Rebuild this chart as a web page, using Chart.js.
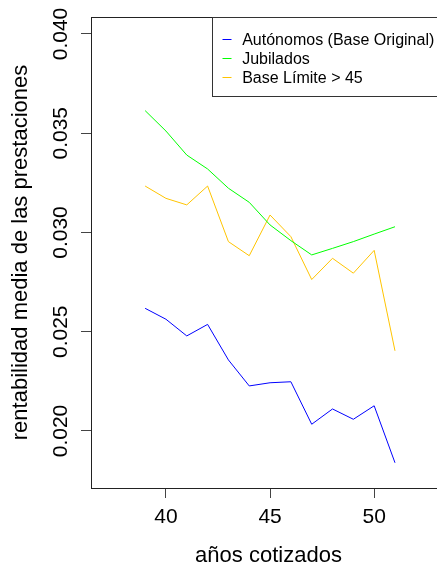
<!DOCTYPE html>
<html>
<head>
<meta charset="utf-8">
<script src="https://cdn.jsdelivr.net/npm/chart.js@4.4.1/dist/chart.umd.min.js"></script>
<style>
  html, body { margin: 0; padding: 0; background: #fff; overflow: hidden; width: 437px; height: 566px; }
  canvas { display: block; }
</style>
</head>
<body>
<canvas id="c" width="446" height="566"></canvas>
<script>
// ---- data ----
const years = [39, 40, 41, 42, 43, 44, 45, 46, 47, 48, 49, 50, 51];
const autonomos = [0.02618, 0.02563, 0.02479, 0.02537, 0.02358, 0.02227, 0.02243, 0.02248, 0.02034, 0.02111, 0.02059, 0.02127, 0.01840];
const jubilados = [0.03614, 0.03511, 0.03390, 0.03320, 0.03223, 0.03152, 0.03038, 0.02959, 0.02887, 0.02920, 0.02954, 0.02992, 0.03029];
const baseLimite = [0.03234, 0.03172, 0.03139, 0.03234, 0.02954, 0.02883, 0.03088, 0.02979, 0.02763, 0.02870, 0.02795, 0.02910, 0.02404];
const seriesLabels = ["Autónomos (Base Original)", "Jubilados", "Base Límite > 45"];
const xTickValues = [40, 45, 50];
const xTickLabels = ["40", "45", "50"];
const yTickValues = [0.020, 0.025, 0.030, 0.035, 0.040];
const yTickLabels = ["0.020", "0.025", "0.030", "0.035", "0.040"];
const xTitle = "años cotizados";
const yTitle = "rentabilidad media de las prestaciones";

const FONT = "'Liberation Sans', Arial, sans-serif";
const toPts = (arr) => years.map((x, i) => ({ x: x, y: arr[i] }));

const boxPlugin = {
  id: 'rbox',
  afterDraw(chart) {
    const { ctx, chartArea: a } = chart;
    ctx.save();
    // top border of the plot box
    ctx.strokeStyle = '#222';
    ctx.lineWidth = 1;
    ctx.beginPath();
    ctx.moveTo(a.left, Math.round(a.top) + 0.5);
    ctx.lineTo(a.right, Math.round(a.top) + 0.5);
    ctx.stroke();
    // legend (top right)
    const left = Math.round(a.right - 234.3) + 0.5;
    const top = Math.round(a.top) + 0.5;
    const h = 79;
    ctx.fillStyle = '#fff';
    ctx.fillRect(left, top, a.right - left, h);
    ctx.strokeStyle = '#333';
    ctx.strokeRect(left, top, a.right - left + 5, h);
    ctx.font = "16px " + FONT;
    ctx.textBaseline = 'alphabetic';
    ctx.textAlign = 'left';
    chart.data.datasets.forEach((ds, i) => {
      const base = a.top + 27.6 + i * 19;
      const ly = Math.round(base - 6) + 0.5;
      ctx.strokeStyle = ds.borderColor;
      ctx.beginPath();
      ctx.moveTo(left + 10, ly);
      ctx.lineTo(left + 19, ly);
      ctx.stroke();
      ctx.fillStyle = '#000';
      ctx.fillText(ds.label, left + 29.7, base);
    });
    ctx.restore();
  }
};

new Chart(document.getElementById('c'), {
  type: 'line',
  data: {
    datasets: [
      { label: seriesLabels[0], data: toPts(autonomos), borderColor: '#0000FF' },
      { label: seriesLabels[1], data: toPts(jubilados), borderColor: '#00FF00' },
      { label: seriesLabels[2], data: toPts(baseLimite), borderColor: '#FFC400' }
    ]
  },
  options: {
    responsive: false,
    animation: false,
    devicePixelRatio: 1,
    layout: { padding: { top: 17, left: 0, right: 0, bottom: 0 } },
    elements: {
      line: { borderWidth: 1, tension: 0, fill: false },
      point: { radius: 0, hoverRadius: 0 }
    },
    plugins: { legend: { display: false }, tooltip: { enabled: false } },
    scales: {
      x: {
        type: 'linear',
        min: 36.40,
        max: 53.45,
        afterBuildTicks: (s) => { s.ticks = xTickValues.map(v => ({ value: v })); },
        afterFit: (s) => { s.height = 78; s.paddingLeft = 0; s.paddingRight = 0; },
        grid: { drawOnChartArea: false, drawTicks: true, tickLength: 10, color: '#444', lineWidth: 1 },
        border: { display: true, color: '#222', width: 1 },
        ticks: {
          autoSkip: false,
          maxRotation: 0,
          padding: 7,
          color: '#000',
          font: { family: FONT, size: 21 },
          callback: (v, i) => xTickLabels[i]
        },
        title: {
          display: true,
          text: xTitle,
          color: '#000',
          font: { family: FONT, size: 22, lineHeight: 1 },
          padding: { top: 0, bottom: -0.7 }
        }
      },
      y: {
        type: 'linear',
        min: 0.017128,
        max: 0.040856,
        afterBuildTicks: (s) => { s.ticks = yTickValues.map(v => ({ value: v })); },
        afterFit: (s) => { s.width = 91; s.paddingTop = 0; s.paddingBottom = 0; },
        grid: { drawOnChartArea: false, drawTicks: true, tickLength: 10, color: '#444', lineWidth: 1 },
        border: { display: true, color: '#222', width: 1 },
        ticks: {
          autoSkip: false,
          minRotation: 90,
          maxRotation: 90,
          crossAlign: 'center',
          padding: -6,
          color: '#000',
          font: { family: FONT, size: 21 },
          callback: (v, i) => yTickLabels[i]
        },
        title: {
          display: true,
          text: yTitle,
          color: '#000',
          font: { family: FONT, size: 22, lineHeight: 1 },
          padding: { top: 9.7, bottom: 0 }
        }
      }
    }
  },
  plugins: [boxPlugin]
});
</script>
</body>
</html>
